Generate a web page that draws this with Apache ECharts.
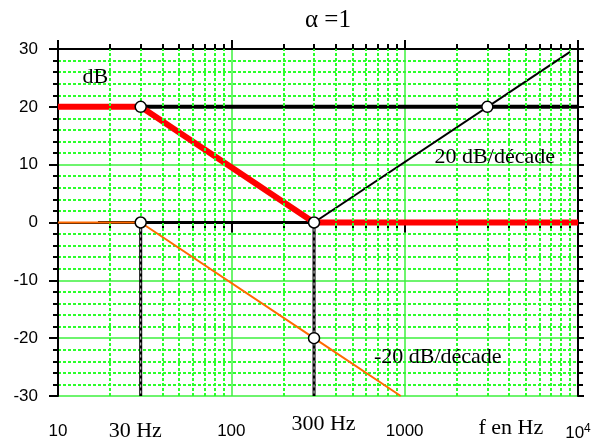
<!DOCTYPE html>
<html>
<head>
<meta charset="utf-8">
<script src="https://cdn.jsdelivr.net/npm/echarts@6/dist/echarts.min.js"></script>
<style>
  html, body { margin: 0; padding: 0; background: #fff; }
  #chart { width: 602px; height: 445px; }
</style>
</head>
<body>
<div id="chart"></div>
<script>
// frequencies in Hz, gains in dB
const xLabels = [10, 100, 1000, 10000];
const mantissas = [2, 3, 4, 5, 6, 7, 8, 9];
const decades = [10, 100, 1000];

const bandHigh = [[30, 20], [10000, 20]];            // black thick, 20 dB
const response = [[10, 20], [30, 20], [300, 0], [10000, 0]]; // red
const zeroLine = [[17, 0], [300, 0]];                // black thin
const riseLine = [[300, 0], [9000, 29.5]];           // +20 dB/decade
const fallLine = [[10, 0], [30, 0], [300, -20], [949, -30]]; // orange
const cut30 = [[30, 0], [30, -30]];
const cut300 = [[300, 0], [300, -30]];
const keyPoints = [[30, 20], [300, 0], [3000, 20], [30, 0], [300, -20]];
const notes = [
  [16.4, 25.2, "dB"],
  [3311, 11.3, "20 dB/décade"],
  [1552, -23.3, "-20 dB/décade"],
  [27.9, -36.1, "30 Hz"],
  [340, -34.8, "300 Hz"],
  [4100, -35.5, "f en Hz"],
];

var minorX = [];
decades.forEach(function (d) {
  mantissas.forEach(function (m) { minorX.push(m * d); });
});

var green = "#3ef03e";
var dotted = { color: "#2bff2b", type: [3, 2], width: 2 };
var sans = "Liberation Sans";
var serif = "Liberation Serif";

var chart = echarts.init(document.getElementById("chart"));

function logAxis(extra) {
  return Object.assign({
    type: "log", logBase: 10, min: 10, max: 10000,
    axisLine: { show: false },
    axisTick: { show: false },
    axisLabel: { show: false },
    splitLine: { show: false },
    minorTick: { show: false },
  }, extra);
}

function line(data, color, width, z, extra) {
  return Object.assign({
    type: "line", data: data, showSymbol: false, symbol: "none",
    lineStyle: { color: color, width: width },
    z: z, silent: true,
  }, extra || {});
}

var option = {
  animation: false,
  grid: { left: 58, right: 24, top: 49, bottom: 49 },
  graphic: [{
    type: "text", left: 305, top: 8,
    style: { text: "α =1", font: "25px " + serif, fill: "#000" },
  }],
  xAxis: [
    logAxis({
      position: "bottom",
      axisLine: { show: true, lineStyle: { color: "#000", width: 2 } },
      axisTick: { show: true, length: 10, lineStyle: { color: "#000", width: 2 } },
      axisLabel: {
        show: true, margin: 27, color: "#000",
        fontFamily: sans, fontSize: 17,
        customValues: xLabels,
        formatter: function (v) {
          return v === 10000 ? "{n|10}{sup|4}" : "{n|" + v + "}";
        },
        rich: {
          n: { fontFamily: sans, fontSize: 17, color: "#000" },
          sup: { fontFamily: sans, fontSize: 12, color: "#000", verticalAlign: "top", padding: [0, 0, 8, 0] },
        },
      },
      splitLine: { show: true, lineStyle: { color: green, width: 1.5 } },
    }),
    logAxis({
      position: "bottom",
      axisTick: { show: true, length: 6, customValues: minorX, lineStyle: { color: "#000", width: 2 } },
    }),
    logAxis({
      position: "top",
      axisLine: { show: true, lineStyle: { color: "#000", width: 2 } },
      axisTick: { show: true, length: 9, lineStyle: { color: "#000", width: 2 } },
    }),
    logAxis({
      position: "top",
      axisTick: { show: true, length: 5, customValues: minorX, lineStyle: { color: "#000", width: 2 } },
    }),
  ],
  yAxis: [
    {
      type: "value", min: -30, max: 30, interval: 10, position: "left",
      axisLine: { show: true, lineStyle: { color: "#000", width: 2 } },
      axisTick: { show: true, length: 9, lineStyle: { color: "#000", width: 2 } },
      minorTick: { show: true, splitNumber: 5, length: 5, lineStyle: { color: "#000", width: 2 } },
      axisLabel: { margin: 20, color: "#000", fontFamily: sans, fontSize: 17 },
      splitLine: { show: true, lineStyle: { color: green, width: 1.5 } },
      minorSplitLine: { show: true, lineStyle: dotted },
    },
    {
      type: "value", min: -30, max: 30, interval: 10, position: "right",
      axisLine: { show: true, lineStyle: { color: "#000", width: 2 } },
      axisTick: { show: true, length: 6, lineStyle: { color: "#000", width: 2 } },
      minorTick: { show: true, splitNumber: 5, length: 5, lineStyle: { color: "#000", width: 2 } },
      axisLabel: { show: false },
      splitLine: { show: false },
    },
  ],
  series: [
    // vertical minor grid (2..9 x 10^n)
    {
      type: "line", data: [], z: 1, silent: true,
      markLine: {
        silent: true, symbol: ["none", "none"], label: { show: false },
        lineStyle: dotted,
        data: minorX.map(function (v) { return { xAxis: v }; }),
      },
    },
    line(bandHigh, "#000", 4, 3),
    line(zeroLine, "#000", 3, 3),
    line(riseLine, "#000", 2, 3),
    line(response, "#f00", 6, 4),
    line(fallLine, "#ff6a00", 2, 5),
    line(cut30, "#000", 3, 5),
    line(cut300, "#000", 3, 5),
    line(cut30, "#fff", 1, 6, { lineStyle: { color: "#ddd", width: 1, type: [3, 3] } }),
    line(cut300, "#fff", 1, 6, { lineStyle: { color: "#ddd", width: 1, type: [3, 3] } }),
    {
      type: "scatter", data: keyPoints, symbol: "circle", symbolSize: 11, z: 8, silent: true,
      itemStyle: { color: "#fff", borderColor: "#000", borderWidth: 1.5, opacity: 1 },
    },
    {
      type: "custom", data: notes, z: 9, silent: true, clip: false,
      renderItem: function (params, api) {
        var pt = api.coord([api.value(0), api.value(1)]);
        return {
          type: "text", x: pt[0], y: pt[1],
          style: {
            text: notes[params.dataIndex][2],
            fill: "#000", font: "22px " + serif,
            align: "center", verticalAlign: "middle",
          },
        };
      },
    },
  ],
};

chart.setOption(option);
</script>
</body>
</html>
